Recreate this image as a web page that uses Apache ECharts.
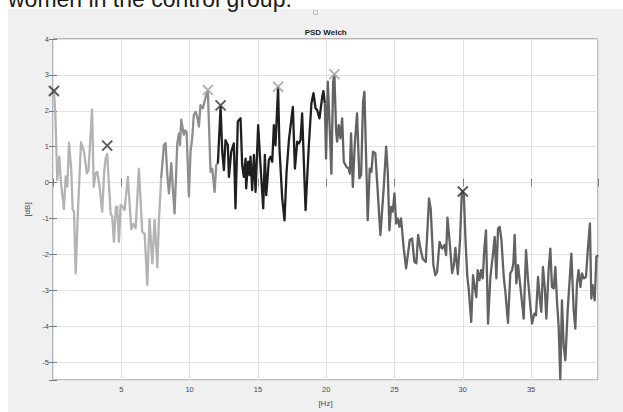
<!DOCTYPE html>
<html>
<head>
<meta charset="utf-8">
<title>PSD Welch</title>
<script src="https://cdn.jsdelivr.net/npm/echarts@6/dist/echarts.min.js"></script>
<style>
  html, body { margin: 0; padding: 0; background: #ffffff; }
  #chart { width: 623px; height: 412px; }
</style>
</head>
<body>
<div id="chart"></div>
<script>
// Welch power spectral density, [frequency Hz, power dB] per band.
const deltaThetaBand = [
  [0.07, 2.54], [0.17, 1.93], [0.31, 0.07], [0.46, 0.72], [0.58, 0.02], [0.80, -0.74],
  [0.93, 0.17], [1.05, -0.11], [1.17, 1.11], [1.34, 0.35], [1.44, -0.76], [1.54, -0.81],
  [1.66, -2.53], [1.83, -0.77], [2.05, 1.12], [2.27, 0.86], [2.48, 0.26], [2.60, 0.35],
  [2.86, 2.04], [2.98, -0.11], [3.12, 0.26], [3.24, 0.30], [3.41, -0.11], [3.60, -0.81],
  [3.75, 0.30], [3.85, 0.67], [3.97, 0.80], [4.22, -0.86], [4.34, -0.95], [4.46, -1.65],
  [4.61, -0.67], [4.70, -0.67], [4.83, -1.65], [4.95, -0.62], [5.10, -0.67], [5.24, -0.76],
  [5.48, 0.16], [5.73, -1.30], [5.87, -1.15], [6.05, -1.27], [6.29, 0.39], [6.53, -1.37],
  [6.71, -1.43], [6.90, -2.85], [7.07, -1.02], [7.27, -2.25], [7.44, -1.04], [7.64, -2.36],
  [7.75, -1.09], [7.92, 0.12]
];

const alphaBand = [
  [7.92, 0.12], [8.12, 1.05], [8.24, 1.10], [8.37, 0.20], [8.49, -0.30], [8.66, 0.54],
  [8.78, -0.20], [8.90, -0.86], [9.10, 1.10], [9.22, 1.37], [9.30, 1.05], [9.39, 1.75],
  [9.50, 1.50], [9.58, 1.33], [9.66, 1.45], [9.78, 1.42], [9.95, -0.39], [10.07, 0.86],
  [10.19, 1.23], [10.31, 1.88], [10.44, 1.97], [10.56, 1.83], [10.68, 1.56], [10.80, 2.16],
  [10.97, 2.07], [11.09, 2.25], [11.22, 2.44], [11.34, 2.55], [11.53, 0.30], [11.66, 0.39],
  [11.83, -0.26], [11.95, 0.49], [12.07, 0.53]
];

const betaBand = [
  [12.07, 0.53], [12.27, 2.11], [12.39, 0.86], [12.51, 0.35], [12.63, 1.18], [12.80, 1.04],
  [12.88, 0.16], [13.05, 0.86], [13.24, 1.09], [13.36, -0.72], [13.53, 1.70], [13.73, 1.79],
  [13.85, 0.49], [13.97, 0.16], [14.10, 0.67], [14.14, -0.16], [14.29, 0.58], [14.39, 0.21],
  [14.46, 0.72], [14.58, -0.21], [14.71, 0.77], [14.83, -0.26], [15.02, 1.60], [15.19, 0.49],
  [15.39, -0.72], [15.51, 0.77], [15.61, -0.35], [15.71, 0.12], [15.80, 0.63], [15.92, 0.72],
  [16.05, 0.58], [16.17, 1.60], [16.29, 1.04], [16.48, 2.65], [16.58, 0.95], [16.78, -0.44],
  [16.95, -1.05], [17.10, 0.30], [17.27, 1.18], [17.56, 2.11], [17.71, 0.39], [17.88, 1.14],
  [18.00, 1.09], [18.12, 1.18], [18.24, 1.93], [18.49, -0.77], [18.73, 1.04], [18.92, 2.21],
  [19.07, 2.49], [19.22, 2.07], [19.34, 2.02], [19.51, 1.79], [19.71, 2.39], [19.80, 2.55],
  [19.90, 2.21]
];

const highBand = [
  [19.90, 2.21], [19.99, 0.67], [20.12, 2.81], [20.24, 1.70], [20.38, 0.25], [20.51, 2.81],
  [20.60, 3.00], [20.73, 1.42], [20.80, 1.14], [20.92, 1.60], [21.04, 1.23], [21.17, 1.79],
  [21.29, 0.58], [21.48, 0.44], [21.65, 0.39], [21.73, 0.25], [21.82, 1.37], [21.95, -0.12],
  [22.09, 1.04], [22.26, 1.93], [22.43, 0.12], [22.56, 0.21], [22.70, 2.25], [22.80, 2.53],
  [22.90, 1.04], [23.04, -1.05], [23.19, 0.39], [23.31, 0.30], [23.43, 0.86], [23.60, 0.81],
  [23.73, 0.02], [23.97, -1.46], [24.21, -0.16], [24.39, 1.00], [24.51, 0.30], [24.63, -1.33],
  [24.75, -0.68], [24.87, -0.81], [25.00, -0.30], [25.12, -1.14], [25.24, -1.00], [25.36, -1.23],
  [25.48, -1.00], [25.68, -1.84], [25.85, -2.39], [26.12, -1.60], [26.29, -1.56], [26.46, -2.21],
  [26.60, -2.25], [26.73, -1.46], [26.90, -1.84], [27.07, -2.12], [27.29, -2.21], [27.53, -0.44],
  [27.65, -0.72], [27.85, -2.30], [27.99, -2.58], [28.12, -2.49], [28.30, -1.65], [28.48, -1.84],
  [28.65, -1.74], [28.78, -2.02], [28.88, -0.98], [29.04, -1.65], [29.22, -2.52], [29.35, -2.30],
  [29.46, -1.82], [29.64, -2.55], [29.80, -1.60], [29.92, -0.35], [30.00, -0.24], [30.08, -0.38],
  [30.20, -1.60], [30.33, -2.60], [30.44, -3.00], [30.62, -3.88], [30.75, -2.58], [30.87, -2.91],
  [30.99, -3.19], [31.09, -2.44], [31.22, -2.72], [31.34, -2.44], [31.46, -2.67], [31.58, -1.84],
  [31.70, -1.33], [31.85, -3.93], [32.02, -2.63], [32.19, -2.07], [32.34, -1.51], [32.46, -2.67],
  [32.58, -1.28], [32.70, -1.23], [32.83, -1.60], [33.00, -2.63], [33.12, -3.05], [33.31, -3.91],
  [33.48, -2.53], [33.61, -2.44], [33.70, -2.26], [33.80, -1.46], [33.92, -2.81], [34.05, -2.30],
  [34.22, -2.91], [34.46, -3.79], [34.63, -1.88], [34.78, -2.72], [34.95, -3.46], [35.07, -3.93],
  [35.24, -3.65], [35.36, -3.70], [35.51, -2.63], [35.63, -3.19], [35.75, -3.60], [35.87, -2.35],
  [36.00, -2.91], [36.12, -3.79], [36.29, -2.40], [36.41, -1.84], [36.53, -2.91], [36.66, -2.95],
  [36.78, -2.35], [36.90, -3.32], [37.02, -4.02], [37.14, -5.48], [37.26, -3.28], [37.39, -4.58],
  [37.51, -4.95], [37.68, -3.56], [37.95, -1.98], [38.12, -3.56], [38.24, -4.07], [38.36, -2.81],
  [38.48, -2.44], [38.61, -2.91], [38.73, -2.53], [38.85, -2.67], [39.02, -2.63], [39.17, -1.79],
  [39.31, -1.14], [39.41, -3.23], [39.51, -2.86], [39.66, -3.28], [39.78, -2.07], [39.90, -2.02]
];

// Band peaks marked with crosses
const darkPeaks = [[0.07, 2.55], [3.97, 1.03], [12.27, 2.15], [30.00, -0.25]];
const lightPeaks = [[11.34, 2.58], [16.48, 2.67], [20.60, 3.02]];

const FONT = '"Liberation Sans", Arial, Helvetica, sans-serif';
const crossPath = 'path://M0,0L10,10M10,0L0,10';

const chart = echarts.init(document.getElementById('chart'), null, { renderer: 'svg' });

function lineSeries(name, data, color) {
  return {
    name: name,
    type: 'line',
    data: data,
    showSymbol: false,
    symbol: 'none',
    lineStyle: { color: color, width: 2.3, join: 'round' },
    z: 3
  };
}

function peakSeries(name, data, color) {
  return {
    name: name,
    type: 'scatter',
    data: data,
    symbol: crossPath,
    symbolSize: 10,
    clip: false,
    itemStyle: { color: 'none', borderColor: color, borderWidth: 2 },
    z: 5
  };
}

const tickLabel = { fontSize: 7.5, color: '#4a4a4a', fontFamily: FONT };
const gridLine = { show: true, lineStyle: { color: '#e2e2e2', width: 1 } };
const innerTick = { show: true, inside: true, length: 4, lineStyle: { color: '#7a7a7a' } };

chart.setOption({
  animation: false,
  backgroundColor: '#ffffff',
  graphic: [
    {
      type: 'text',
      left: 8, top: -13,
      z: 0,
      style: { text: 'women in the control group.', font: '23px ' + FONT, fill: '#1a1a1a' }
    },
    {
      type: 'rect',
      shape: { x: 8, y: 9, width: 615, height: 403 },
      style: { fill: '#f0f0f0' },
      z: -1
    },
    {
      type: 'rect',
      shape: { x: 313.5, y: 10.5, width: 4, height: 4 },
      style: { fill: 'none', stroke: '#c4c4c4', lineWidth: 1 },
      z: 1
    },
    {
      type: 'text',
      x: 325.7, y: 32,
      z: 2,
      style: {
        text: 'PSD Welch', font: 'bold 8px ' + FONT, fill: '#222222',
        align: 'center', verticalAlign: 'middle'
      }
    }
  ],
  grid: {
    left: 53, right: 25, top: 39, bottom: 32,
    show: true, backgroundColor: '#ffffff',
    borderColor: '#7a7a7a', borderWidth: 1
  },
  xAxis: [
    {
      type: 'value', min: 0, max: 39.9, splitNumber: 8, minInterval: 5, maxInterval: 5,
      name: '[Hz]', nameLocation: 'middle', nameGap: 19,
      nameTextStyle: { fontSize: 8, color: '#4a4a4a', fontFamily: FONT },
      axisLine: { show: false },
      axisTick: innerTick,
      axisLabel: Object.assign({ margin: 5, formatter: v => (v > 0 && v % 5 === 0 ? String(v) : '') }, tickLabel),
      splitLine: gridLine
    },
    {
      type: 'value', position: 'top', min: 0, max: 39.9, splitNumber: 8, minInterval: 5, maxInterval: 5,
      axisLine: { show: false }, axisTick: innerTick,
      axisLabel: { show: false }, splitLine: { show: false }
    }
  ],
  yAxis: [
    {
      type: 'value', min: -5.5, max: 4, splitNumber: 9, minInterval: 1, maxInterval: 1,
      name: '[dB]', nameLocation: 'middle', nameGap: 12, nameRotate: 90,
      nameTextStyle: { fontSize: 8, color: '#4a4a4a', fontFamily: FONT },
      axisLine: { show: false },
      axisTick: innerTick,
      axisLabel: Object.assign({ margin: 4, formatter: v => (Number.isInteger(v) ? String(v) : '') }, tickLabel),
      splitLine: gridLine
    },
    {
      type: 'value', position: 'right', min: -5.5, max: 4, splitNumber: 9, minInterval: 1, maxInterval: 1,
      axisLine: { show: false }, axisTick: innerTick,
      axisLabel: { show: false }, splitLine: { show: false }
    }
  ],
  series: [
    lineSeries('delta-theta', deltaThetaBand, '#b3b3b3'),
    lineSeries('alpha', alphaBand, '#8e8e8e'),
    lineSeries('beta', betaBand, '#1f1f1f'),
    lineSeries('high', highBand, '#626262'),
    peakSeries('peaks', darkPeaks, '#333333'),
    peakSeries('peaks-light', lightPeaks, '#a6a6a6')
  ]
});
</script>
</body>
</html>
